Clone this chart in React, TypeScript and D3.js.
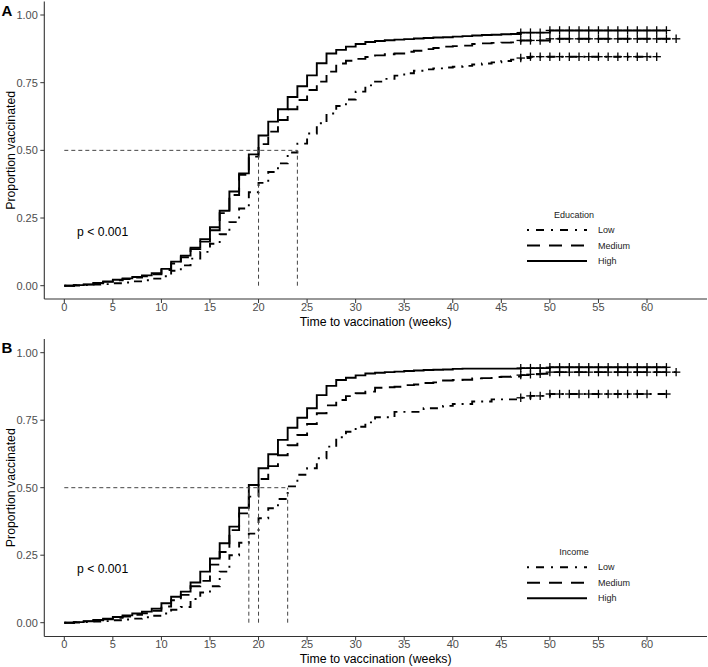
import React from "react";
import * as d3 from "d3";

// ---------- Data (cumulative proportion vaccinated, by week index 0..N) ----------
const xTicks = [0, 5, 10, 15, 20, 25, 30, 35, 40, 45, 50, 55, 60];
const yTicks = [0, 0.25, 0.5, 0.75, 1];
const yTickLabels = ["0.00", "0.25", "0.50", "0.75", "1.00"];
const groups = ["Low", "Medium", "High"];

// Panel A: Education
const eduLow = [0, 0.001, 0.002, 0.004, 0.006, 0.009, 0.012, 0.016, 0.02, 0.026, 0.035, 0.055, 0.075, 0.1, 0.125, 0.155, 0.19, 0.235, 0.285, 0.345, 0.38, 0.42, 0.452, 0.492, 0.525, 0.562, 0.6, 0.636, 0.664, 0.688, 0.717, 0.74, 0.754, 0.764, 0.776, 0.785, 0.794, 0.799, 0.803, 0.806, 0.809, 0.812, 0.817, 0.821, 0.825, 0.83, 0.835, 0.841, 0.846, 0.846, 0.846, 0.846, 0.846, 0.846, 0.846, 0.846, 0.846, 0.846, 0.846, 0.846, 0.846, 0.846];
const eduMedium = [0, 0.002, 0.004, 0.009, 0.014, 0.02, 0.025, 0.03, 0.035, 0.042, 0.058, 0.082, 0.105, 0.135, 0.163, 0.205, 0.268, 0.335, 0.41, 0.477, 0.523, 0.569, 0.612, 0.652, 0.686, 0.723, 0.754, 0.791, 0.821, 0.831, 0.838, 0.845, 0.851, 0.855, 0.858, 0.864, 0.868, 0.874, 0.878, 0.883, 0.885, 0.887, 0.893, 0.895, 0.897, 0.898, 0.899, 0.906, 0.906, 0.906, 0.912, 0.912, 0.912, 0.912, 0.912, 0.912, 0.912, 0.912, 0.912, 0.912, 0.912, 0.912, 0.912, 0.912];
const eduHigh = [0, 0.002, 0.005, 0.01, 0.016, 0.022, 0.027, 0.032, 0.038, 0.046, 0.062, 0.089, 0.111, 0.14, 0.172, 0.216, 0.277, 0.348, 0.415, 0.485, 0.555, 0.606, 0.652, 0.697, 0.737, 0.777, 0.822, 0.858, 0.871, 0.883, 0.893, 0.9, 0.904, 0.907, 0.909, 0.911, 0.913, 0.915, 0.917, 0.918, 0.92, 0.922, 0.924, 0.926, 0.927, 0.929, 0.93, 0.935, 0.935, 0.935, 0.943, 0.943, 0.943, 0.943, 0.943, 0.943, 0.943, 0.943, 0.943, 0.943, 0.943, 0.943, 0.943];
const eduLowCensor = [47, 48, 49, 50, 51, 52, 53, 54, 55, 56, 57, 58, 59, 60, 61];
const eduMediumCensor = [47, 48, 49, 50, 51, 52, 53, 54, 55, 56, 57, 58, 59, 60, 61, 62, 63];
const eduHighCensor = [47, 48, 49, 50, 51, 52, 53, 54, 55, 56, 57, 58, 59, 60, 61, 62];
const eduMedians = [20, 24];

// Panel B: Income
const incLow = [0, 0.001, 0.002, 0.004, 0.006, 0.009, 0.012, 0.015, 0.02, 0.026, 0.034, 0.048, 0.058, 0.088, 0.112, 0.135, 0.189, 0.25, 0.296, 0.33, 0.387, 0.424, 0.458, 0.505, 0.548, 0.572, 0.609, 0.652, 0.687, 0.707, 0.726, 0.742, 0.761, 0.761, 0.781, 0.781, 0.781, 0.794, 0.794, 0.803, 0.81, 0.81, 0.819, 0.819, 0.827, 0.827, 0.827, 0.833, 0.84, 0.84, 0.847, 0.847, 0.847, 0.847, 0.847, 0.847, 0.847, 0.847, 0.847, 0.847, 0.847, 0.847, 0.847];
const incMedium = [0, 0.002, 0.005, 0.009, 0.013, 0.018, 0.023, 0.029, 0.035, 0.044, 0.06, 0.083, 0.103, 0.135, 0.155, 0.215, 0.262, 0.343, 0.405, 0.467, 0.532, 0.58, 0.62, 0.657, 0.695, 0.736, 0.776, 0.805, 0.825, 0.839, 0.85, 0.856, 0.87, 0.872, 0.874, 0.88, 0.882, 0.888, 0.89, 0.897, 0.899, 0.9, 0.905, 0.906, 0.91, 0.911, 0.912, 0.917, 0.92, 0.922, 0.928, 0.928, 0.928, 0.928, 0.928, 0.928, 0.928, 0.928, 0.928, 0.928, 0.928, 0.928, 0.928, 0.928];
const incHigh = [0, 0.002, 0.006, 0.01, 0.015, 0.021, 0.027, 0.034, 0.041, 0.052, 0.072, 0.096, 0.115, 0.149, 0.189, 0.238, 0.294, 0.356, 0.426, 0.51, 0.572, 0.624, 0.677, 0.722, 0.759, 0.794, 0.843, 0.877, 0.899, 0.907, 0.916, 0.923, 0.926, 0.928, 0.93, 0.932, 0.934, 0.936, 0.937, 0.938, 0.94, 0.941, 0.941, 0.941, 0.941, 0.941, 0.941, 0.943, 0.943, 0.943, 0.946, 0.946, 0.946, 0.946, 0.946, 0.946, 0.946, 0.946, 0.946, 0.946, 0.946, 0.946, 0.946];
const incLowCensor = [47, 48, 49, 50, 51, 52, 53, 54, 55, 56, 57, 58, 59, 60, 62];
const incMediumCensor = [47, 48, 49, 50, 51, 52, 53, 54, 55, 56, 57, 58, 59, 60, 61, 62, 63];
const incHighCensor = [47, 48, 49, 50, 51, 52, 53, 54, 55, 56, 57, 58, 59, 60, 61, 62];
const incMedians = [19, 20, 23];

const FONT = "'Liberation Sans', Arial, Helvetica, sans-serif";
const dashes: Record<string, string> = { Low: "2,6,8,6", Medium: "13,7", High: "none" };
const legendDashes: Record<string, string> = { Low: "2,7,8,7", Medium: "13,9", High: "none" };

type PanelProps = {
  tag: string;
  legendTitle: string;
  series: number[][];
  censors: number[][];
  medians: number[];
  top: number;
  bottom: number;
  y0: number;
  y1: number;
};

const LEFT = 44.3;
const RIGHT = 707;

function Panel({ tag, legendTitle, series, censors, medians, top, bottom, y0, y1 }: PanelProps) {
  const x = d3.scaleLinear().domain([0, 60]).range([64.3, 647]);
  const y = d3.scaleLinear().domain([0, 1]).range([y0, y1]);
  const line = d3
    .line<number>()
    .x((_, i) => x(i))
    .y((d) => y(d))
    .curve(d3.curveStepAfter);
  const maxMedian = d3.max(medians) as number;
  const legX = 527;
  const legY = y(0.2) - 1.5; // first legend key line
  return (
    <g>
      {/* axes */}
      <line x1={LEFT} x2={LEFT} y1={top} y2={bottom} stroke="#333" strokeWidth={1.1} />
      <line x1={LEFT} x2={RIGHT} y1={bottom} y2={bottom} stroke="#333" strokeWidth={1.1} />
      {yTicks.map((t, i) => (
        <g key={"y" + i}>
          <line x1={LEFT - 4} x2={LEFT} y1={y(t)} y2={y(t)} stroke="#333" strokeWidth={1} />
          <text x={LEFT - 6.5} y={y(t)} dy="0.35em" textAnchor="end" fontSize={11} fill="#4d4d4d" fontFamily={FONT}>
            {yTickLabels[i]}
          </text>
        </g>
      ))}
      {xTicks.map((t) => (
        <g key={"x" + t}>
          <line x1={x(t)} x2={x(t)} y1={bottom} y2={bottom + 4} stroke="#333" strokeWidth={1} />
          <text x={x(t)} y={bottom + 11.5} textAnchor="middle" fontSize={11} fill="#4d4d4d" fontFamily={FONT}>
            {t}
          </text>
        </g>
      ))}
      <text x={(LEFT + RIGHT) / 2} y={bottom + 26.5} textAnchor="middle" fontSize={12.3} fill="#000" fontFamily={FONT}>
        Time to vaccination (weeks)
      </text>
      <text
        transform={`translate(14.5, ${(y0 + y1) / 2}) rotate(-90)`}
        textAnchor="middle"
        fontSize={12.3}
        fill="#000"
        fontFamily={FONT}
      >
        Proportion vaccinated
      </text>
      <text x={1.5} y={top + 14} fontSize={15} fontWeight="bold" fill="#000" fontFamily={FONT}>
        {tag}
      </text>
      {/* curves */}
      {series.map((s, gi) => (
        <path
          key={"s" + gi}
          d={line(s) || ""}
          fill="none"
          stroke="#000"
          strokeWidth={1.9}
          strokeDasharray={dashes[groups[gi]]}
        />
      ))}
      {/* censor marks */}
      {censors.map((cs, gi) =>
        cs.map((w) => {
          const s = series[gi];
          const v = s[Math.min(w, s.length - 1)];
          const cx = x(w);
          const cy = y(v);
          return (
            <g key={"c" + gi + "-" + w} stroke="#000" strokeWidth={1.3}>
              <line x1={cx - 4.2} x2={cx + 4.2} y1={cy} y2={cy} />
              <line x1={cx} x2={cx} y1={cy - 4.2} y2={cy + 4.2} />
            </g>
          );
        })
      )}
      {/* median lines */}
      <line x1={x(0)} x2={x(maxMedian)} y1={y(0.5)} y2={y(0.5)} stroke="#444" strokeWidth={1} strokeDasharray="4,3" />
      {medians.map((m) => (
        <line key={"m" + m} x1={x(m)} x2={x(m)} y1={y(0)} y2={y(0.5)} stroke="#444" strokeWidth={1} strokeDasharray="4,3" />
      ))}
      {/* p-value */}
      <text x={77} y={y(0.2)} dy="0.35em" fontSize={12.2} fill="#000" fontFamily={FONT}>
        p &lt; 0.001
      </text>
      {/* legend */}
      <text x={574} y={legY - 15} dy="0.35em" textAnchor="middle" fontSize={9} fill="#222" fontFamily={FONT}>
        {legendTitle}
      </text>
      {groups.map((g, i) => (
        <g key={"l" + g}>
          <line
            x1={legX}
            x2={legX + 60}
            y1={legY + i * 15.5}
            y2={legY + i * 15.5}
            stroke="#000"
            strokeWidth={1.9}
            strokeDasharray={legendDashes[g]}
          />
          <text x={598} y={legY + i * 15.5} dy="0.35em" fontSize={9} fill="#222" fontFamily={FONT}>
            {g}
          </text>
        </g>
      ))}
    </g>
  );
}

export default function App() {
  return (
    <svg
      width={708}
      height={667}
      style={{ position: "absolute", left: 0, top: 0, background: "#fff" }}
      xmlns="http://www.w3.org/2000/svg"
    >
      <rect x={0} y={0} width={708} height={667} fill="#fff" />
      <Panel
        tag="A"
        legendTitle="Education"
        series={[eduLow, eduMedium, eduHigh]}
        censors={[eduLowCensor, eduMediumCensor, eduHighCensor]}
        medians={eduMedians}
        top={1.5}
        bottom={299}
        y0={285.7}
        y1={15}
      />
      <Panel
        tag="B"
        legendTitle="Income"
        series={[incLow, incMedium, incHigh]}
        censors={[incLowCensor, incMediumCensor, incHighCensor]}
        medians={incMedians}
        top={339}
        bottom={636.5}
        y0={622.7}
        y1={352.7}
      />
    </svg>
  );
}
